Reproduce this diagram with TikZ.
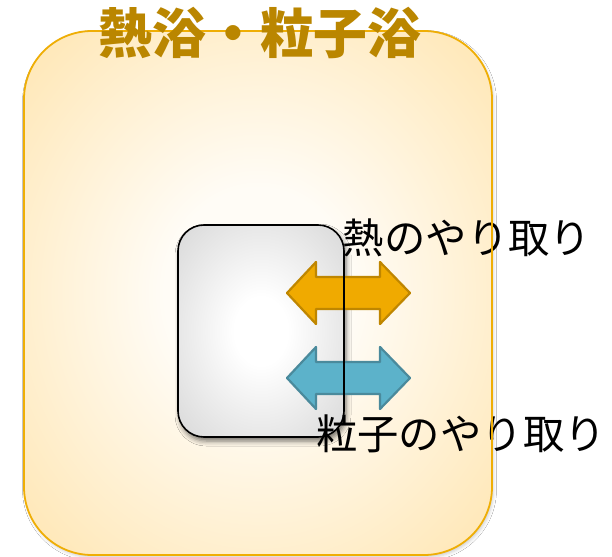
\documentclass[tikz,border=0pt]{standalone}
\usepackage{fontspec}
\newfontfamily\cjk{Noto Sans CJK JP}
\usetikzlibrary{shadows.blur}
\definecolor{bathborder}{HTML}{EFAE05}
\definecolor{bathedge}{HTML}{FFE1A3}
\definecolor{bathmid}{HTML}{FFFCF6}
\definecolor{titlecol}{HTML}{BA8600}
\definecolor{heatfill}{HTML}{F0AA00}
\definecolor{heatline}{HTML}{BF8600}
\definecolor{partfill}{HTML}{5CB2CA}
\definecolor{partline}{HTML}{4A8A9C}
\definecolor{boxedge}{HTML}{D2D2D2}
\pgfdeclareradialshading{bathshade}{\pgfpoint{0bp}{0bp}}{color(0bp)=(bathmid); color(10bp)=(bathmid); color(41bp)=(bathedge); color(50bp)=(bathedge)}
\pgfdeclareradialshading{boxshade}{\pgfpoint{0bp}{0bp}}{color(0bp)=(white); color(8bp)=(white); color(40bp)=(boxedge); color(50bp)=(boxedge)}
\tikzset{
  bath/.style={rounded corners=68bp, shading=bathshade},
  bathline/.style={rounded corners=68bp, draw=bathborder, line width=1.8bp},
  sysbox/.style={rounded corners=26bp, shading=boxshade,
    blur shadow={shadow xshift=2bp, shadow yshift=-4bp, shadow blur radius=5bp, shadow opacity=55}},
  sysline/.style={rounded corners=26bp, draw=black, line width=1.6bp},
  heatarrow/.style={fill=heatfill, draw=heatline, line width=2.2bp, line join=round},
  partarrow/.style={fill=partfill, draw=partline, line width=2.2bp, line join=round},
  label/.style={font=\cjk\fontsize{41.5}{44}\selectfont, text=black, inner sep=0pt},
  title/.style={font=\cjk\bfseries\fontsize{54}{58}\selectfont, text=titlecol, inner sep=0pt}
}
\begin{document}
\begin{tikzpicture}[x=1bp, y=-1bp]
\useasboundingbox (0,0) rectangle (612,557);
\fill[white] (0,0) rectangle (612,557);
% bath
\shade[bath, blur shadow={shadow xshift=1.5bp, shadow yshift=-2.5bp, shadow blur radius=3bp, shadow opacity=18}] (24,31) rectangle (492,555);
% system box
\shade[sysbox] (178,225) rectangle (344,437);
% arrows
\draw[heatarrow] (287,293) -- (316,262) -- (316,277) -- (380,277) -- (380,262) -- (410,293) -- (380,324) -- (380,309) -- (316,309) -- (316,324) -- cycle;
\draw[partarrow] (287,378) -- (316,347) -- (316,362) -- (380,362) -- (380,347) -- (410,378) -- (380,409) -- (380,394) -- (316,394) -- (316,409) -- cycle;
\draw[sysline] (178,225) rectangle (344,437);
% labels
\node[label] (heat) at (467,238) {熱のやり取り};
\node[label] (part) at (461,434) {粒子のやり取り};
\draw[bathline] (24,31) rectangle (492,555);
\node[title] (ttl) at (260,33) {熱浴・粒子浴};
\end{tikzpicture}
\end{document}
